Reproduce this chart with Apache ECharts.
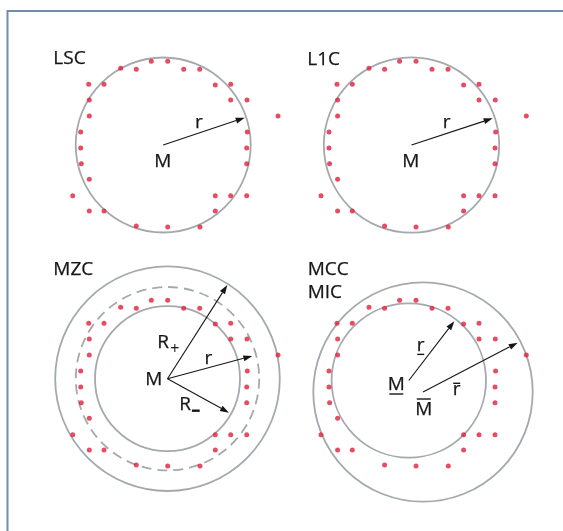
<!DOCTYPE html>
<html>
<head>
<meta charset="utf-8">
<script src="https://cdn.jsdelivr.net/npm/echarts@6/dist/echarts.min.js"></script>
<style>
  html, body { margin: 0; padding: 0; background: #fff; }
  #chart { width: 563px; height: 531px; }
</style>
</head>
<body>
<div id="chart"></div>
<script>
// Measured profile points, shared by all four panels (local units, y up, origin = LSC centre)
const PROFILE_X = [-42.5, -26.9, -11.9, 4.5, 20.5, 36.5, -74.5, -59.2, 52.1, 67.5, -73.9, 67.5, 83.8,
  -73.9, 114.8, -82.5, 84.1, -82.5, 83.5, -81.9, 83.5, -73.9, -90.5, 52.1, 67.5, 83.5, -73.9, -59.2,
  52.1, -26.9, 4.5, 36.8];
const PROFILE_Y = [76.7, 75.7, 83.7, 83.7, 75.7, 75.7, 60.7, 60.7, 60, 60.7, 45, 45, 45,
  29, 29, 13, 13, -3, -3, -18.7, -18.7, -34.3, -50.7, -50.7, -50.7, -50.7, -66, -66,
  -66, -81, -82, -82];

// Fitted reference circles: panel, centre, radius, dashed flag
const CIRCLE_PANEL = [0, 1, 2, 2, 2, 3, 3];
const CIRCLE_X = [0, 0, 4.3, 4.3, 4.3, 11.5, -2.7];
const CIRCLE_Y = [0, 0, 5.3, 5.3, 5.3, -8, 3.5];
const CIRCLE_R = [87.5, 87.7, 112.3, 91.7, 72.5, 109.7, 77.2];
const CIRCLE_DASHED = [0, 0, 0, 1, 0, 0, 0];

// Radius arrows: panel, start point, end point
const ARROW_PANEL = [0, 1, 2, 2, 2, 3, 3];
const ARROW_X0 = [0, 0, 4.3, 4.3, 4.3, -2.7, 11.5];
const ARROW_Y0 = [0, 0, 5.3, 5.3, 5.3, 3.5, -8];
const ARROW_X1 = [81.5, 81.2, 64.1, 89.1, 65.8, 42.8, 106.2];
const ARROW_Y1 = [27.3, 26.7, 99, 28, -28.7, 62.7, 41.3];

// Text: panel, text, anchor (x, baseline y), alignment, decoration
const LABEL_PANEL = [0, 0, 0, 1, 1, 1, 2, 2, 2, 2, 2, 3, 3, 3, 3, 3, 3];
const LABEL_TEXT = ['LSC', 'M', 'r', 'L1C', 'M', 'r', 'MZC', 'M', 'R', 'r', 'R', 'MCC', 'MIC', 'r', 'M', 'r', 'M'];
const LABEL_X = [-109.9, -0.4, 35.8, -104.2, -0.7, 35.2, -109.9, -9.4, -5.9, 45.1, 16.1, -103.8, -103.8, 9.2, -15.2, 45.2, 12.3];
const LABEL_Y = [79.3, -23.3, 15.7, 79, -23.3, 15.7, 107.3, -2.7, 35, 19, -27.7, 107.3, 84.7, 31.3, -7.7, -12.7, -32.7];
const LABEL_ALIGN = ['left', 'center', 'center', 'left', 'center', 'center', 'left', 'center', 'left', 'center', 'left',
  'left', 'left', 'center', 'center', 'center', 'center'];
const LABEL_MARK = ['', '', '', '', '', '', '', '', 'plus', '', 'minus', '', '', 'under', 'under', 'over', 'over'];

// Pixel position of each panel's local origin
const PANEL_ORIGIN = [[163.2, 145], [411.5, 145], [163.2, 384], [411.5, 384]];
const HALF = 125;

const FONT = '"Open Sans", "Noto Sans", sans-serif';
const INK = '#161616';
const DOT = '#e11f3f';
const RING = '#a4a9ad';

const grids = [], xAxes = [], yAxes = [], series = [];

PANEL_ORIGIN.forEach(function (o, p) {
  grids.push({ left: o[0] - HALF, top: o[1] - HALF, width: 2 * HALF, height: 2 * HALF });
  xAxes.push({ type: 'value', gridIndex: p, min: -HALF, max: HALF, show: false });
  yAxes.push({ type: 'value', gridIndex: p, min: -HALF, max: HALF, show: false });

  // circles
  const circ = [];
  CIRCLE_PANEL.forEach(function (cp, i) {
    if (cp === p) circ.push([CIRCLE_X[i], CIRCLE_Y[i], CIRCLE_R[i], CIRCLE_DASHED[i]]);
  });
  series.push({
    type: 'custom', xAxisIndex: p, yAxisIndex: p, data: circ, silent: true, z: 1,
    renderItem: function (params, api) {
      const c = api.coord([api.value(0), api.value(1)]);
      const r = api.size([api.value(2), 0])[0];
      return {
        type: 'circle',
        shape: { cx: c[0], cy: c[1], r: r },
        style: { fill: 'none', stroke: RING, lineWidth: 1.8, lineDash: api.value(3) ? [10, 6] : null }
      };
    }
  });

  // profile points
  series.push({
    type: 'scatter', xAxisIndex: p, yAxisIndex: p, silent: true, z: 3,
    symbolSize: 5, itemStyle: { color: DOT },
    data: PROFILE_X.map(function (x, i) { return [x, PROFILE_Y[i]]; })
  });

  // arrows
  const arr = [];
  ARROW_PANEL.forEach(function (ap, i) {
    if (ap === p) arr.push([ARROW_X0[i], ARROW_Y0[i], ARROW_X1[i], ARROW_Y1[i]]);
  });
  series.push({
    type: 'custom', xAxisIndex: p, yAxisIndex: p, data: arr, silent: true, z: 4,
    renderItem: function (params, api) {
      const a = api.coord([api.value(0), api.value(1)]);
      const b = api.coord([api.value(2), api.value(3)]);
      const ang = Math.atan2(b[1] - a[1], b[0] - a[0]);
      const L = 9, W = 3;
      const bx = b[0] - L * Math.cos(ang), by = b[1] - L * Math.sin(ang);
      const nx = -Math.sin(ang) * W, ny = Math.cos(ang) * W;
      return {
        type: 'group',
        children: [
          { type: 'line', shape: { x1: a[0], y1: a[1], x2: bx, y2: by }, style: { stroke: INK, lineWidth: 1.1 } },
          { type: 'polygon', shape: { points: [[b[0], b[1]], [bx + nx, by + ny], [bx - nx, by - ny]] }, style: { fill: INK } }
        ]
      };
    }
  });

  // text
  const idx = [];
  LABEL_PANEL.forEach(function (lp, i) { if (lp === p) idx.push(i); });
  series.push({
    type: 'custom', xAxisIndex: p, yAxisIndex: p, silent: true, z: 5,
    data: idx.map(function (i) { return [LABEL_X[i], LABEL_Y[i]]; }),
    renderItem: function (params, api) {
      const i = idx[params.dataIndex];
      const pt = api.coord([api.value(0), api.value(1)]);
      const title = LABEL_ALIGN[i] === 'left' && LABEL_MARK[i] === '';
      const fs = title ? 19 : 19;
      const w = LABEL_TEXT[i] === 'M' ? 14 : 7;
      const children = [{
        type: 'text', x: pt[0], y: pt[1] - 0.36 * fs,
        style: { text: LABEL_TEXT[i], fill: INK, font: fs + 'px ' + FONT, align: LABEL_ALIGN[i], verticalAlign: 'middle',
          stroke: INK, lineWidth: 0.25 }
      }];
      const mark = LABEL_MARK[i];
      if (mark === 'plus') {
        children.push({ type: 'text', x: pt[0] + 17.5, y: pt[1] + 0.5,
          style: { text: '+', fill: INK, font: '16px ' + FONT, align: 'center', verticalAlign: 'middle' } });
      } else if (mark === 'minus') {
        children.push({ type: 'rect', shape: { x: pt[0] + 12.6, y: pt[1] - 2.2, width: 7.8, height: 2.4 }, style: { fill: INK } });
      } else if (mark === 'under') {
        const uy = pt[1] + (LABEL_TEXT[i] === 'M' ? 2.3 : 1.7);
        children.push({ type: 'line', shape: { x1: pt[0] - w / 2, y1: uy, x2: pt[0] + w / 2, y2: uy }, style: { stroke: INK, lineWidth: 1.4 } });
      } else if (mark === 'over') {
        const oy = pt[1] - (LABEL_TEXT[i] === 'M' ? 17.7 : 13.4);
        children.push({ type: 'line', shape: { x1: pt[0] - w / 2, y1: oy, x2: pt[0] + w / 2, y2: oy }, style: { stroke: INK, lineWidth: 1.4 } });
      }
      return { type: 'group', children: children };
    }
  });
});

const chart = echarts.init(document.getElementById('chart'), null, { renderer: 'canvas' });
chart.setOption({
  backgroundColor: '#ffffff',
  animation: false,
  grid: grids,
  xAxis: xAxes,
  yAxis: yAxes,
  series: series,
  graphic: [{
    type: 'polyline', silent: true, z: 10,
    shape: { points: [[7.5, 531], [7.5, 11], [563, 11]] },
    style: { stroke: '#6f8eab', lineWidth: 2, fill: 'none' }
  }]
});
</script>
</body>
</html>
